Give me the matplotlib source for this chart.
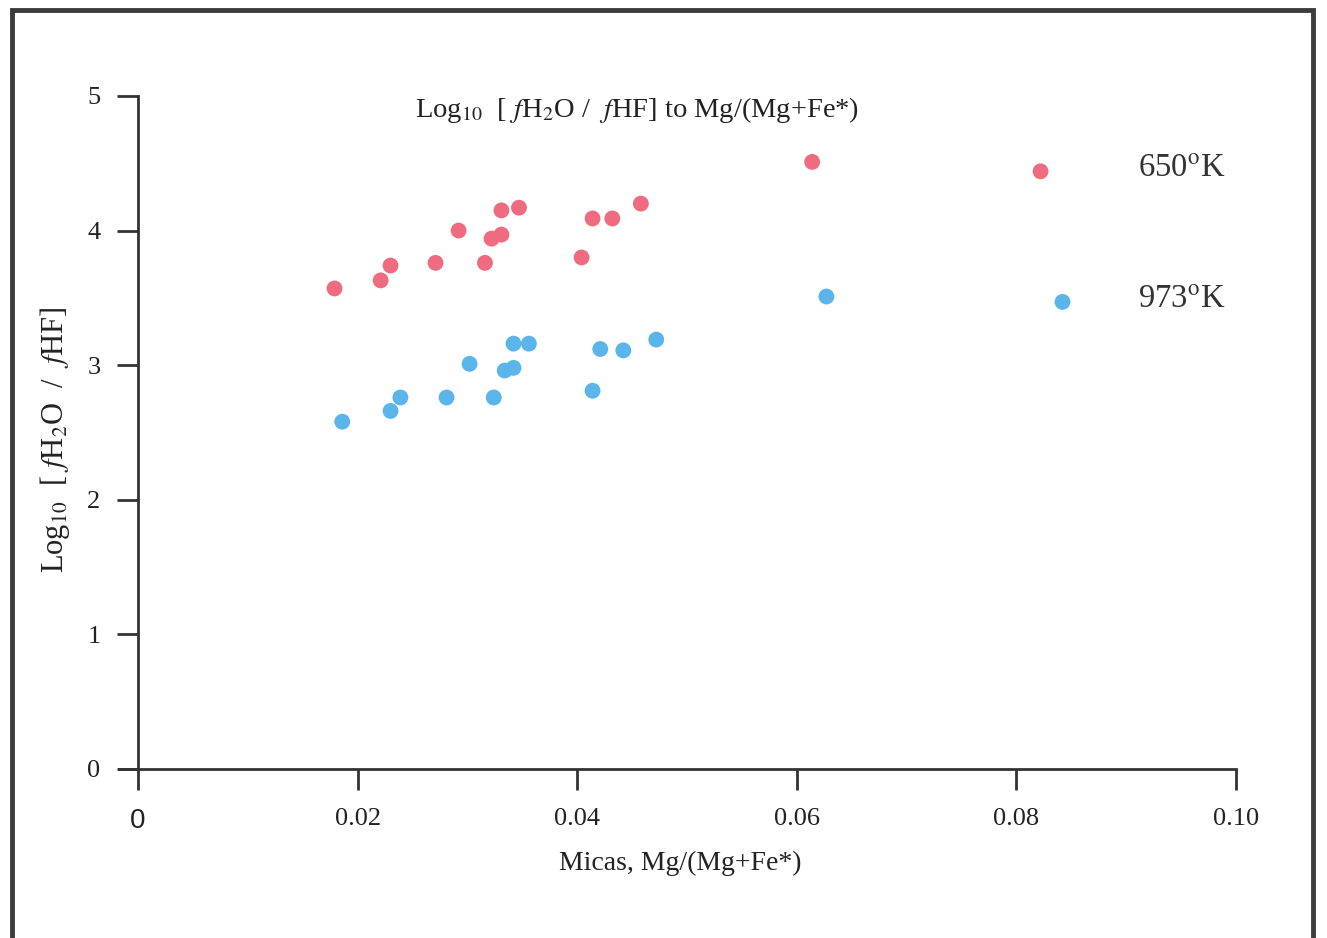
import numpy as np
import matplotlib.pyplot as plt
from matplotlib.patches import Rectangle

plt.rcParams['font.family'] = ['Liberation Serif', 'DejaVu Serif']
plt.rcParams['mathtext.fontset'] = 'stix'

# data
x_650 = [0.0179, 0.0221, 0.0230, 0.0271, 0.0292, 0.0316, 0.0322, 0.0331,
         0.0331, 0.0347, 0.0404, 0.0414, 0.0432, 0.0458, 0.0614, 0.0822]
y_650 = [3.57, 3.63, 3.74, 3.76, 4.00, 3.76, 3.94, 3.97,
         4.15, 4.17, 3.80, 4.09, 4.09, 4.20, 4.51, 4.44]

x_973 = [0.0186, 0.0230, 0.0239, 0.0281, 0.0302, 0.0324, 0.0334, 0.0342,
         0.0342, 0.0356, 0.0414, 0.0421, 0.0442, 0.0472, 0.0627, 0.0842]
y_973 = [2.58, 2.66, 2.76, 2.76, 3.01, 2.76, 2.96, 2.98,
         3.16, 3.16, 2.81, 3.12, 3.11, 3.19, 3.51, 3.47]

x_ticks = [0, 0.02, 0.04, 0.06, 0.08, 0.10]
x_ticklabels = ['0', '0.02', '0.04', '0.06', '0.08', '0.10']
y_ticks = [0, 1, 2, 3, 4, 5]

axis_col = '#333333'

fig = plt.figure(figsize=(13.27, 9.38), dpi=100)
ax = fig.add_axes([0.104, 0.1802, 0.8274, 0.7175])

ax.scatter(x_650, y_650, s=130, color='#ee6b80', edgecolors='none', zorder=3)
ax.scatter(x_973, y_973, s=130, color='#5cb5ea', edgecolors='none', zorder=3)

ax.set_xlim(0, 0.10)
ax.set_ylim(0, 5)
for side in ['top', 'right']:
    ax.spines[side].set_visible(False)
for side in ['left', 'bottom']:
    ax.spines[side].set_linewidth(2.0)
    ax.spines[side].set_color(axis_col)

ax.set_xticks(x_ticks)
ax.set_xticklabels(x_ticklabels)
ax.set_yticks(y_ticks)
ax.tick_params(axis='both', direction='out', length=15, width=2.0,
               color=axis_col, labelsize=19, labelcolor='#222222')
ax.tick_params(axis='x', pad=13)
ax.tick_params(axis='y', pad=12)
lab0 = ax.get_xticklabels()[0]
lab0.set_fontfamily('Liberation Sans')
lab0.set_fontsize(20)

# extension of x axis to the left of 0
ax.plot([-0.0017, 0], [0, 0], color=axis_col, lw=2.0, clip_on=False)

ax.text(0.4545, 0.979, r'Log$_{10}$  [ $\mathit{f}$H$_2$O /  $\mathit{f}$HF] to Mg/(Mg+Fe*)',
        transform=ax.transAxes, ha='center', va='center', fontsize=20.5, color='#222222')

ax.set_xlabel('Micas, Mg/(Mg+Fe*)', fontsize=20, color='#222222')
ax.xaxis.set_label_coords(0.494, -0.122)
ax.set_ylabel(r'Log$_{10}$  [ $\mathit{f}$H$_2$O  /  $\mathit{f}$HF]', fontsize=22, color='#222222')
ax.yaxis.set_label_coords(-0.060, 0.489)

ax.text(0.0911, 4.46, r'650$^{\mathrm{o}}$K', fontsize=23.5, ha='left', va='center', color='#333333')
ax.text(0.0911, 3.49, r'973$^{\mathrm{o}}$K', fontsize=23.5, ha='left', va='center', color='#333333')

# scanned page frame
fig.patches.append(Rectangle((12 / 1327, -0.05), 1301 / 1327, 1.05 - 10 / 938,
                             transform=fig.transFigure, fill=False,
                             edgecolor='#3c3c3c', linewidth=3.5))

fig.savefig('out.png', dpi=100)
